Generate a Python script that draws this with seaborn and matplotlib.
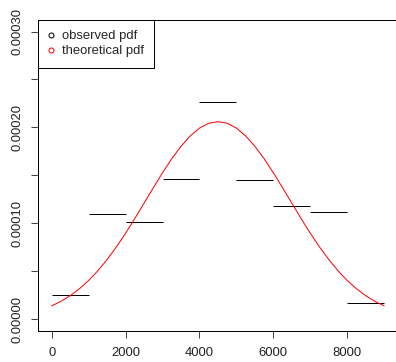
import matplotlib
matplotlib.use("Agg")
import matplotlib.pyplot as plt
import seaborn as sns
from matplotlib.lines import Line2D

# observed pdf: one horizontal step per bin
bin_left = [0, 1000, 2000, 3000, 4000, 5000, 6000, 7000, 8000]
bin_right = [1000, 2000, 3000, 4000, 5000, 6000, 7000, 8000, 9000]
observed_pdf = [0.0000250, 0.0001097, 0.0001010, 0.0001458, 0.0002270,
                0.0001450, 0.0001184, 0.0001122, 0.0000164]

# theoretical pdf, every 250 units
curve_x = [0, 250, 500, 750, 1000, 1250, 1500, 1750, 2000, 2250, 2500, 2750,
           3000, 3250, 3500, 3750, 4000, 4250, 4500, 4750, 5000, 5250, 5500,
           5750, 6000, 6250, 6500, 6750, 7000, 7250, 7500, 7750, 8000, 8250,
           8500, 8750, 9000]
theoretical_pdf = [1.39e-5, 1.86e-5, 2.45e-5, 3.17e-5, 4.03e-5, 5.05e-5, 6.22e-5,
                   7.53e-5, 8.96e-5, 1.050e-4, 1.210e-4, 1.370e-4, 1.527e-4,
                   1.673e-4, 1.803e-4, 1.911e-4, 1.993e-4, 2.043e-4, 2.060e-4,
                   2.043e-4, 1.993e-4, 1.911e-4, 1.803e-4, 1.673e-4, 1.527e-4,
                   1.370e-4, 1.210e-4, 1.050e-4, 8.96e-5, 7.53e-5, 6.22e-5,
                   5.05e-5, 4.03e-5, 3.17e-5, 2.45e-5, 1.86e-5, 1.39e-5]

y_major = [0.0, 0.0001, 0.0002, 0.0003]
y_major_labels = ["0.00000", "0.00010", "0.00020", "0.00030"]
y_minor = [0.00005, 0.00015, 0.00025]
x_ticks = [0, 2000, 4000, 6000, 8000]
legend_labels = ["observed pdf", "theoretical pdf"]

sns.set_style("white")
plt.rcParams['font.family'] = ['Liberation Sans', 'DejaVu Sans']

W, H = 396, 362
fig = plt.figure(figsize=(W / 72, H / 72), dpi=72)
ax = fig.add_axes([38.4 / W, (H - 330.7) / H, (397.5 - 38.4) / W, (330.7 - 20) / H])

ax.hlines(observed_pdf, bin_left, bin_right, colors="black", lw=1)
sns.lineplot(x=curve_x, y=theoretical_pdf, color="red", lw=1, ax=ax)

ax.set_xlim(-360, 9360)
ax.set_ylim(-0.000012, 0.000312)

ax.set_xticks(x_ticks)
ax.set_xticklabels([str(t) for t in x_ticks])
ax.set_yticks(y_major)
ax.set_yticklabels(y_major_labels, rotation=90, va="center")
ax.set_yticks(y_minor, minor=True)
ax.tick_params(which="both", direction="out", length=7, width=1, color="#444",
               labelsize=13, labelcolor="#222")
ax.tick_params(axis="y", which="both", left=True, pad=8)
ax.tick_params(axis="x", bottom=True, pad=9)

for s in ax.spines.values():
    s.set_color("black")
    s.set_linewidth(1)

handles = [Line2D([], [], marker="o", linestyle="none", markerfacecolor="none",
                  markeredgecolor=c, markersize=5, markeredgewidth=1)
           for c in ["black", "red"]]
leg = ax.legend(handles, legend_labels, loc="upper left", bbox_to_anchor=(0, 1),
                borderaxespad=0, fancybox=False, framealpha=1, fontsize=13,
                borderpad=0.8, handlelength=0.3, handletextpad=0.72,
                labelspacing=0.2)
leg.get_frame().set_edgecolor("black")
leg.get_frame().set_linewidth(1)

fig.savefig("out.png", dpi=72)
